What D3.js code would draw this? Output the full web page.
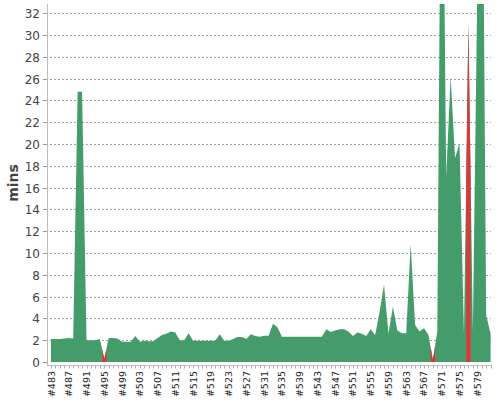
<!DOCTYPE html>
<html>
<head>
<meta charset="utf-8">
<script src="https://cdn.jsdelivr.net/npm/d3@7"></script>
<style>
  html, body { margin: 0; padding: 0; background: #fff; }
  svg { display: block; font-family: "DejaVu Sans", sans-serif; }
</style>
</head>
<body>
<svg id="chart" width="500" height="400"></svg>
<script>
// Build numbers (categories)
const builds = d3.range(483, 583);
// Build durations in minutes, one per build
const durations = [
  2.1, 2.1, 2.1, 2.15, 2.2, 2.15, 24.8, 24.8, 2.0, 2.0,      // 483-492
  2.0, 2.1, 0.3, 2.2, 2.2, 2.15, 1.85, 1.85, 1.85, 2.38,     // 493-502
  1.85, 1.94, 1.9, 1.9, 2.2, 2.48, 2.6, 2.8, 2.7, 2.0,       // 503-512
  2.0, 2.63, 1.95, 1.94, 1.94, 1.94, 1.94, 1.94, 2.55, 1.95, // 513-522
  1.96, 2.1, 2.3, 2.3, 2.1, 2.54, 2.38, 2.32, 2.4, 2.4,      // 523-532
  3.5, 3.2, 2.32, 2.32, 2.32, 2.32, 2.32, 2.32, 2.32, 2.32,  // 533-542
  2.32, 2.32, 3.0, 2.75, 2.9, 3.0, 3.0, 2.8, 2.38, 2.7,      // 543-552
  2.6, 2.38, 3.0, 2.45, 4.6, 7.1, 2.6, 5.1, 2.9, 2.63,       // 553-562
  2.63, 10.8, 3.4, 2.8, 3.1, 2.5, 0.2, 2.8, 60, 17,          // 563-572
  26.2, 18.7, 20.1, 2.6, 31, 2.8, 34, 60, 4.3, 2.6           // 573-582
];
// Failed builds (drawn red); all others succeeded (green)
const failedBuilds = [495, 569, 577];
// Y tick values and x labels
const yTicks = d3.range(0, 33, 2);
const xLabelBuilds = d3.range(483, 583, 4);
const yTitle = "mins";

const svg = d3.select("#chart");
const plot = { left: 47.7, right: 492.5, top: 4, bottom: 362 };

const x = d3.scalePoint().domain(builds).range([51, 490.6]);
const step = x.step();
const y = d3.scaleLinear().domain([0, 32.85]).range([plot.bottom, plot.top]);

const colorOk = "#449c6b", colorFail = "#d9393b";

svg.append("defs").append("clipPath").attr("id", "clip")
  .append("rect").attr("x", plot.left).attr("y", plot.top)
  .attr("width", plot.right - plot.left).attr("height", plot.bottom - plot.top);

// gridlines
const grid = svg.append("g");
yTicks.filter(t => t > 0).forEach(t => {
  grid.append("line")
    .attr("x1", 50).attr("x2", 491)
    .attr("y1", Math.round(y(t)) + 0.5).attr("y2", Math.round(y(t)) + 0.5)
    .attr("stroke", "#a0a0a0").attr("stroke-width", 1)
    .attr("stroke-dasharray", "2,2");
});

const g = svg.append("g").attr("clip-path", "url(#clip)");
const area = d3.area().x(d => d[0]).y0(y(0)).y1(d => y(d[1]));

// one continuous green area through all builds
g.append("path")
  .datum(builds.map((b, i) => [x(b), durations[i]]))
  .attr("d", area).attr("fill", colorOk);

// red band for every failed build (its own category band)
builds.forEach((b, i) => {
  if (!failedBuilds.includes(b)) return;
  const v = durations[i];
  const pts = [
    [x(b) - step / 2, (durations[i - 1] + v) / 2],
    [x(b), v],
    [x(b) + step / 2, (durations[i + 1] + v) / 2]
  ];
  g.append("path").datum(pts).attr("d", area).attr("fill", colorFail);
});

// y axis line
svg.append("line").attr("x1", 47.5).attr("x2", 47.5)
  .attr("y1", plot.top).attr("y2", 366).attr("stroke", "#bbb");

// y ticks & labels
const yAxis = svg.append("g");
yTicks.forEach(t => {
  const yy = Math.round(y(t)) + 0.5;
  yAxis.append("line").attr("x1", 43).attr("x2", 47).attr("y1", yy).attr("y2", yy)
    .attr("stroke", "#999");
  yAxis.append("text").attr("x", 40).attr("y", yy).attr("dy", "0.36em")
    .attr("text-anchor", "end").attr("font-size", 12).attr("fill", "#444")
    .text(t);
});

// x axis line and ticks
svg.append("line").attr("x1", 47.5).attr("x2", 492).attr("y1", 365.5).attr("y2", 365.5)
  .attr("stroke", "#bbb");
builds.forEach(b => {
  svg.append("line").attr("x1", Math.round(x(b)) + 0.5).attr("x2", Math.round(x(b)) + 0.5)
    .attr("y1", 366).attr("y2", 368.5).attr("stroke", "#aaa");
});
xLabelBuilds.forEach(b => {
  svg.append("text")
    .attr("transform", `translate(${x(b) + 3.5},371) rotate(-90)`)
    .attr("text-anchor", "end").attr("font-size", 9.5).attr("fill", "#222")
    .text("#" + b);
});

// y title
svg.append("text")
  .attr("transform", `translate(18,183) rotate(-90)`)
  .attr("text-anchor", "middle").attr("font-size", 14).attr("font-weight", "bold")
  .attr("fill", "#444").text(yTitle);
</script>
</body>
</html>
